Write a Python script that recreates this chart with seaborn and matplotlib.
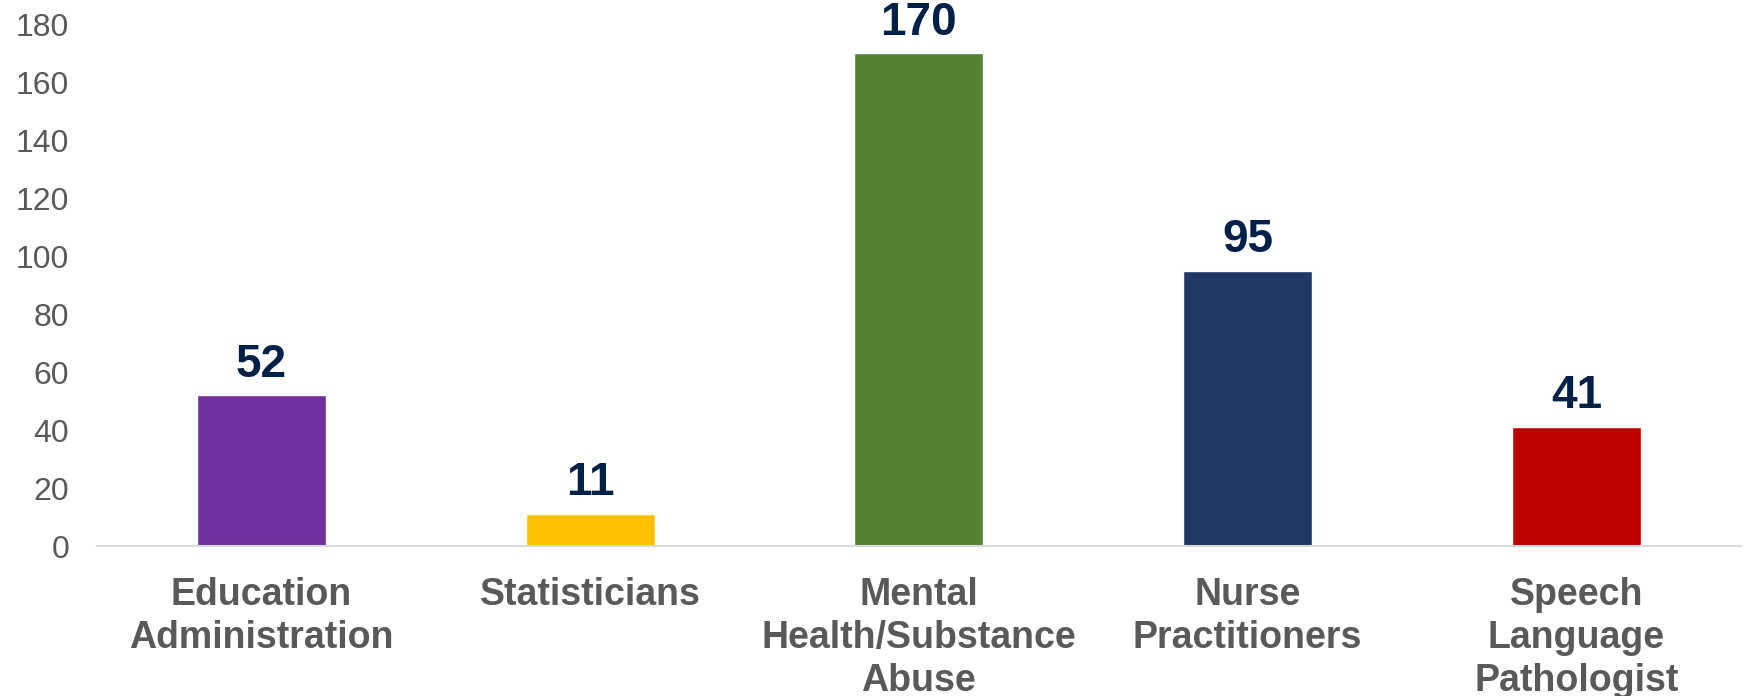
import pandas as pd
import matplotlib.pyplot as plt
import seaborn as sns

# Data
categories = ["Education\nAdministration", "Statisticians", "Mental\nHealth/Substance\nAbuse",
              "Nurse\nPractitioners", "Speech\nLanguage\nPathologist"]
values = [52, 11, 170, 95, 41]
bar_colors = ["#7030A0", "#FFC000", "#548235", "#203864", "#C00000"]
y_ticks = [0, 20, 40, 60, 80, 100, 120, 140, 160, 180]

df = pd.DataFrame({"Category": categories, "Count": values})

sns.set_style("white")
plt.rcParams["font.family"] = ["Liberation Sans", "DejaVu Sans"]

fig = plt.figure(figsize=(17.46, 6.96), dpi=100)
ax = fig.add_axes([0.0556, 0.2155, 0.9414, 0.7495])

sns.barplot(data=df, x="Category", y="Count", hue="Category",
            palette=bar_colors, width=0.392, saturation=1, legend=False, ax=ax)

for i, v in enumerate(values):
    ax.text(i, v + 3, str(v), ha="center", va="bottom", fontsize=33,
            fontweight="bold", color="#002147")

ax.set_ylim(0, 180)
ax.set_xlim(-0.5, len(categories) - 0.5)
ax.set_yticks(y_ticks)
ax.set_xlabel("")
ax.set_ylabel("")
ax.tick_params(axis="y", labelsize=23, labelcolor="#595959", length=0, pad=20)
ax.tick_params(axis="x", labelsize=27, labelcolor="#595959", length=0, pad=22)
for lbl in ax.get_xticklabels():
    lbl.set_fontweight("bold")
    lbl.set_linespacing(1.25)

for side in ["top", "right", "left"]:
    ax.spines[side].set_visible(False)
ax.spines["bottom"].set_color("#D9D9D9")
ax.spines["bottom"].set_linewidth(1.5)
ax.grid(False)

fig.savefig("out.png", dpi=100)
plt.close(fig)
